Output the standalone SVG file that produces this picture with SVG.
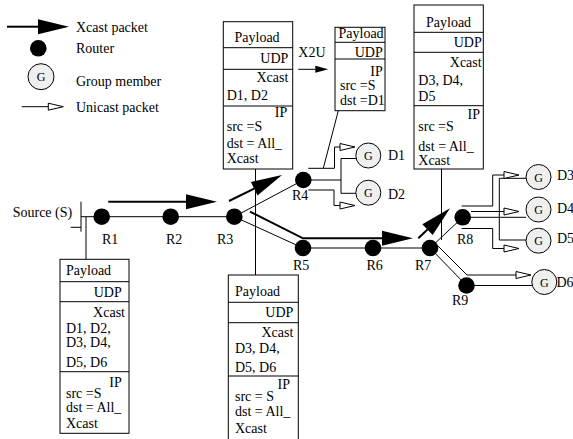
<svg xmlns="http://www.w3.org/2000/svg" width="573" height="439" viewBox="0 0 573 439">
<style>
text{font-family:"Liberation Serif","Times New Roman",serif;font-size:14px;fill:#000}
.e{text-anchor:end}
.g{font-size:12px;text-anchor:middle}
.box{fill:#fff;stroke:#000;stroke-width:1}
.div{stroke:#000;stroke-width:1}
.link{fill:none;stroke:#000;stroke-width:1}
.x{fill:none;stroke:#000;stroke-width:2;marker-end:url(#xh)}
.u{fill:none;stroke:#000;stroke-width:1;marker-end:url(#uh)}
.r{fill:#000}
.m{fill:#efefef;stroke:#000;stroke-width:1}
</style>
<defs>
<marker id="xh" markerUnits="userSpaceOnUse" markerWidth="32" markerHeight="16" refX="0" refY="7.5" orient="auto" overflow="visible">
<path d="M0,0 L31,7.5 L0,15 z" fill="#000"/>
</marker>
<marker id="uh" markerUnits="userSpaceOnUse" markerWidth="16" markerHeight="8" refX="0" refY="3.5" orient="auto" overflow="visible">
<path d="M0,0 L15,3.5 L0,7 z" fill="#fff" stroke="#000" stroke-width="1"/>
</marker>
<marker id="sh" markerUnits="userSpaceOnUse" markerWidth="14" markerHeight="8" refX="0" refY="3.5" orient="auto" overflow="visible">
<path d="M0,0 L13,3.5 L0,7 z" fill="#000"/>
</marker>
</defs>
<rect width="573" height="439" fill="#fff"/>

<g id="legend">
<line class="x" x1="7" y1="26.7" x2="38" y2="26.7"/>
<text x="76" y="31.7">Xcast packet</text>
<circle class="r" cx="38.3" cy="48.3" r="8.3"/>
<text x="76" y="53.3">Router</text>
<circle class="m" cx="41" cy="76.7" r="13"/>
<text class="g" x="41" y="81">G</text>
<text x="76" y="86">Group member</text>
<line class="u" x1="21.7" y1="106.7" x2="48.3" y2="106.7"/>
<text x="76" y="111.7">Unicast packet</text>
</g>

<g id="connectors">
<line class="link" x1="81" y1="201.7" x2="81" y2="231.7" stroke-width="1.5"/>
<line class="link" x1="70.7" y1="227.3" x2="81" y2="227.3"/>
<line class="link" x1="81" y1="216.7" x2="234.3" y2="216.7"/>
<line class="link" x1="234.3" y1="216.7" x2="303.3" y2="180"/>
<line class="link" x1="234.3" y1="216.7" x2="303" y2="248"/>
<line class="link" x1="303" y1="248" x2="430" y2="248"/>
<line class="link" x1="430" y1="248" x2="462.7" y2="217.3"/>
<polyline class="link" points="430,248 466.5,285.5 532,285.5"/>
<polyline class="link" points="303.3,180 341,180"/>
<polyline class="link" points="356,158.5 341,158.5 341,193.3 356,193.3"/>
<polyline class="link" points="462.7,217.3 526,217.3"/>
<polyline class="link" points="526,178.3 499.3,178.3 499.3,240 526,240"/>
<line class="link" x1="86" y1="216.7" x2="86" y2="259.3"/>
<line class="link" x1="255.5" y1="169" x2="255.5" y2="275"/>
<line class="link" x1="441.5" y1="169" x2="441.5" y2="240"/>
<line class="link" x1="338.3" y1="110.7" x2="323.3" y2="168.3"/>
<line class="x" x1="108.3" y1="201.7" x2="186" y2="201.7"/>
<line class="x" x1="229" y1="201" x2="254.2" y2="188.7"/>
<polyline class="x" points="250,211.7 303,238.3 382,238.3"/>
<line class="x" x1="418.3" y1="238.3" x2="427.5" y2="229.6"/>
<line x1="298.3" y1="69.3" x2="315.3" y2="69.3" stroke="#000" stroke-width="1" marker-end="url(#sh)"/>
<polyline class="u" points="308.3,168.3 334.5,168.3 334.5,147 340,147"/>
<polyline class="u" points="308.3,190 334,190 334,205.5 340,205.5"/>
<polyline class="u" points="461.7,206 492.7,206 492.7,175 504,175"/>
<polyline class="u" points="471,211.5 504,211.5"/>
<polyline class="u" points="461.7,228.5 492.7,228.5 492.7,248.5 504,248.5"/>
<polyline class="u" points="438,246 467,275 516,275"/>
</g>

<g id="source"><text x="12.7" y="216.7">Source (S)</text></g>

<g id="R1"><circle class="r" cx="101.7" cy="216.7" r="8.3"/><text x="102" y="244">R1</text></g>
<g id="R2"><circle class="r" cx="170.7" cy="216.7" r="8.3"/><text x="166" y="244">R2</text></g>
<g id="R3"><circle class="r" cx="234.3" cy="216.7" r="8.3"/><text x="217" y="244">R3</text></g>
<g id="R4"><circle class="r" cx="303.3" cy="180" r="8.3"/><text x="292" y="200">R4</text></g>
<g id="R5"><circle class="r" cx="303" cy="248" r="8.3"/><text x="293" y="270">R5</text></g>
<g id="R6"><circle class="r" cx="373" cy="248" r="8.3"/><text x="366.5" y="270">R6</text></g>
<g id="R7"><circle class="r" cx="430" cy="248" r="8.3"/><text x="415" y="270">R7</text></g>
<g id="R8"><circle class="r" cx="462.7" cy="217.3" r="8.3"/><text x="457" y="244">R8</text></g>
<g id="R9"><circle class="r" cx="466.5" cy="285.5" r="8.3"/><text x="452" y="305">R9</text></g>

<g id="D1"><circle class="m" cx="368.3" cy="155.5" r="12.5"/><text class="g" x="368.3" y="160">G</text><text x="388" y="160">D1</text></g>
<g id="D2"><circle class="m" cx="368.3" cy="192.7" r="12.5"/><text class="g" x="368.3" y="197">G</text><text x="388" y="199">D2</text></g>
<g id="D3"><circle class="m" cx="538.5" cy="177" r="12.5"/><text class="g" x="538.5" y="181.5">G</text><text x="557" y="180">D3</text></g>
<g id="D4"><circle class="m" cx="538.5" cy="209.5" r="12.5"/><text class="g" x="538.5" y="214">G</text><text x="557" y="212.5">D4</text></g>
<g id="D5"><circle class="m" cx="538.5" cy="240.7" r="12.5"/><text class="g" x="538.5" y="245.2">G</text><text x="557" y="243">D5</text></g>
<g id="D6"><circle class="m" cx="544.3" cy="282" r="12.5"/><text class="g" x="544.3" y="286.5">G</text><text x="556.5" y="287">D6</text></g>

<g id="pktR1">
<rect class="box" x="60" y="259.3" width="69" height="174"/>
<line class="div" x1="60" y1="281.7" x2="129" y2="281.7"/>
<line class="div" x1="60" y1="301.7" x2="129" y2="301.7"/>
<line class="div" x1="60" y1="371.7" x2="129" y2="371.7"/>
<text x="66" y="275">Payload</text>
<text class="e" x="121.7" y="296.7">UDP</text>
<text class="e" x="125" y="316.7">Xcast</text>
<text x="66" y="333">D1, D2,</text>
<text x="66" y="347">D3, D4,</text>
<text x="66" y="367">D5, D6</text>
<text class="e" x="121.7" y="386.7">IP</text>
<text x="66" y="398.3">src =S</text>
<text x="66" y="412">dst = All_</text>
<text x="66" y="428">Xcast</text>
</g>

<g id="pktR5">
<rect class="box" x="228.3" y="275" width="70" height="170"/>
<line class="div" x1="228.3" y1="302.3" x2="298.3" y2="302.3"/>
<line class="div" x1="228.3" y1="322.7" x2="298.3" y2="322.7"/>
<line class="div" x1="228.3" y1="376" x2="298.3" y2="376"/>
<text x="235" y="296">Payload</text>
<text class="e" x="293.3" y="316.7">UDP</text>
<text class="e" x="293.3" y="336.7">Xcast</text>
<text x="235" y="353.3">D3, D4,</text>
<text x="235" y="371.7">D5, D6</text>
<text class="e" x="290" y="389">IP</text>
<text x="235" y="401.3">src = S</text>
<text x="235" y="415.5">dst = All_</text>
<text x="235" y="433.3">Xcast</text>
</g>

<g id="pktR4">
<rect class="box" x="223.3" y="21.7" width="69.4" height="147.3"/>
<line class="div" x1="223.3" y1="47.7" x2="292.7" y2="47.7"/>
<line class="div" x1="223.3" y1="69.3" x2="292.7" y2="69.3"/>
<line class="div" x1="223.3" y1="106" x2="292.7" y2="106"/>
<text x="234.5" y="41.7">Payload</text>
<text class="e" x="288.3" y="63.3">UDP</text>
<text class="e" x="288.3" y="82.3">Xcast</text>
<text x="226.7" y="100">D1, D2</text>
<text class="e" x="287.3" y="117.3">IP</text>
<text x="226.7" y="130.7">src =S</text>
<text x="226.7" y="148.3">dst = All_</text>
<text x="226.7" y="163.3">Xcast</text>
</g>

<g id="x2u">
<text x="298.3" y="56.7">X2U</text>
</g>

<g id="pktD1">
<rect class="box" x="335" y="27.3" width="50" height="83.4"/>
<line class="div" x1="335" y1="42.3" x2="385" y2="42.3"/>
<line class="div" x1="335" y1="59" x2="385" y2="59"/>
<text x="338.5" y="38">Payload</text>
<text class="e" x="382.7" y="57">UDP</text>
<text class="e" x="382.7" y="75.5">IP</text>
<text x="340" y="90">src =S</text>
<text x="340" y="104.5">dst =D1</text>
</g>

<g id="pktR8">
<rect class="box" x="414" y="5" width="69.3" height="164"/>
<line class="div" x1="414" y1="32.3" x2="483.3" y2="32.3"/>
<line class="div" x1="414" y1="52.3" x2="483.3" y2="52.3"/>
<line class="div" x1="414" y1="105.7" x2="483.3" y2="105.7"/>
<text x="426" y="26.7">Payload</text>
<text class="e" x="481.7" y="47.3">UDP</text>
<text class="e" x="481.7" y="66.7">Xcast</text>
<text x="418.3" y="85">D3, D4,</text>
<text x="418.3" y="100.7">D5</text>
<text class="e" x="480" y="119">IP</text>
<text x="418.3" y="131">src =S</text>
<text x="418.3" y="150.7">dst = All_</text>
<text x="418.3" y="165">Xcast</text>
</g>
</svg>
